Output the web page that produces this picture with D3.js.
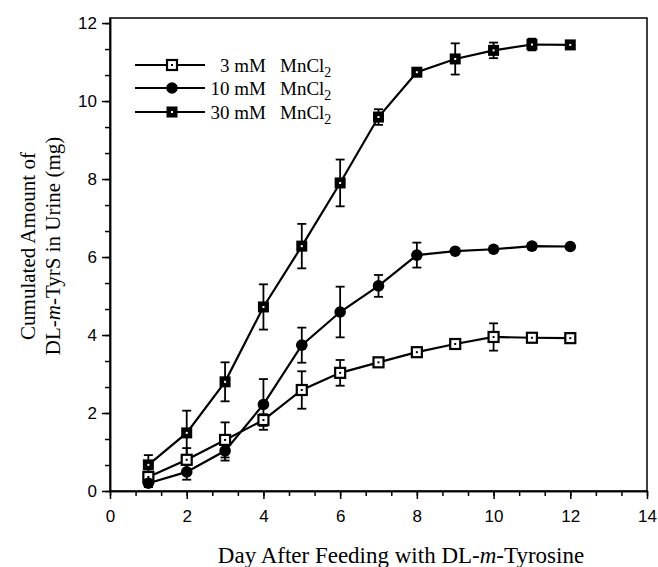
<!DOCTYPE html>
<html><head><meta charset="utf-8">
<script src="https://cdn.jsdelivr.net/npm/d3@7"></script>
<style>body{margin:0;background:#fff}svg{display:block}</style>
</head><body>
<script>
const days = [1,2,3,4,5,6,7,8,9,10,11,12];
const mn3 = [0.36,0.80,1.31,1.82,2.59,3.03,3.30,3.56,3.77,3.95,3.93,3.92];
const mn3Err = [0.10,0.30,0.45,0.15,0.48,0.33,0.10,0.10,0.08,0.35,0,0];
const mn10 = [0.20,0.49,1.03,2.22,3.74,4.59,5.26,6.05,6.15,6.20,6.28,6.27];
const mn10Err = [0.10,0.20,0.25,0.65,0.45,0.65,0.28,0.32,0,0.07,0.08,0];
const mn30 = [0.67,1.49,2.80,4.72,6.28,7.90,9.59,10.74,11.08,11.30,11.45,11.44];
const mn30Err = [0.25,0.57,0.50,0.58,0.57,0.60,0.20,0.10,0.40,0.20,0.15,0];
const xTicks = [0,2,4,6,8,10,12,14];
const yTicks = [0,2,4,6,8,10,12];
const seriesNames = ["3 mM","10 mM","30 mM"];

const W=658,H=567;
const svg=d3.select("body").append("svg").attr("width",W).attr("height",H);
const x=d3.scaleLinear().domain([0,14]).range([110,647]);
const y=d3.scaleLinear().domain([0,12.13]).range([491,18]);

// frame
svg.append("rect").attr("x",x(0)).attr("y",y(12.13)).attr("width",x(14)-x(0)).attr("height",y(0)-y(12.13))
  .attr("fill","none").attr("stroke","#000").attr("stroke-width",1.5);

// axes
const minorX=d3.range(0,14.01,2/3);
const minorY=d3.range(0,12.01,2/3);
const xAx=svg.append("g").attr("transform",`translate(0,${y(0)})`);
xAx.call(d3.axisBottom(x).tickValues(minorX).tickFormat("").tickSize(5).tickSizeOuter(0));
xAx.append("g").call(d3.axisBottom(x).tickValues(xTicks).tickFormat(d3.format("d")).tickSize(8).tickSizeOuter(0).tickPadding(11));
const yAx=svg.append("g").attr("transform",`translate(${x(0)},0)`);
yAx.call(d3.axisLeft(y).tickValues(minorY).tickFormat("").tickSize(5).tickSizeOuter(0));
yAx.append("g").call(d3.axisLeft(y).tickValues(yTicks).tickFormat(d3.format("d")).tickSize(8).tickSizeOuter(0).tickPadding(5));
svg.selectAll(".domain").attr("stroke","#000").attr("stroke-width",1.5);
svg.selectAll(".tick line").attr("stroke","#000").attr("stroke-width",1.5);
svg.selectAll(".tick text").attr("font-family","'Liberation Sans',Arial,sans-serif").attr("font-size",17).attr("fill","#000");

// series
const series=[
 {vals:mn3,err:mn3Err,type:"open"},
 {vals:mn10,err:mn10Err,type:"circle"},
 {vals:mn30,err:mn30Err,type:"filled"}
];
const line=d3.line().x((d,i)=>x(days[i])).y(d=>y(d));
function marker(g,type,cx,cy){
  if(type==="circle"){
    g.append("circle").attr("cx",cx).attr("cy",cy).attr("r",5.8).attr("fill","#000");
  } else if(type==="open"){
    g.append("rect").attr("x",cx-5).attr("y",cy-5).attr("width",10).attr("height",10).attr("fill","#fff").attr("stroke","#000").attr("stroke-width",2.2);
    g.append("rect").attr("x",cx-1).attr("y",cy-1).attr("width",2).attr("height",2).attr("fill","#000");
  } else {
    g.append("rect").attr("x",cx-5.5).attr("y",cy-5.5).attr("width",11).attr("height",11).attr("fill","#000");
    g.append("rect").attr("x",cx-1).attr("y",cy-1).attr("width",2).attr("height",2).attr("fill","#fff");
  }
}
series.forEach(s=>{
  const g=svg.append("g");
  g.append("path").attr("d",line(s.vals)).attr("fill","none").attr("stroke","#000").attr("stroke-width",2.2);
  s.vals.forEach((v,i)=>{
    const e=s.err[i]; if(!e) return;
    const cx=x(days[i]);
    g.append("line").attr("x1",cx).attr("x2",cx).attr("y1",y(v-e)).attr("y2",y(v+e)).attr("stroke","#000").attr("stroke-width",1.8);
    [v-e,v+e].forEach(t=>g.append("line").attr("x1",cx-4.5).attr("x2",cx+4.5).attr("y1",y(t)).attr("y2",y(t)).attr("stroke","#000").attr("stroke-width",1.8));
  });
});
series.forEach(s=>{
  const g=svg.append("g");
  s.vals.forEach((v,i)=>marker(g,s.type,x(days[i]),y(v)));
});

// legend
const serif="'Liberation Serif','Times New Roman',serif";
const ly=[65,88,112];
series.forEach((s,i)=>{
  const g=svg.append("g");
  g.append("line").attr("x1",135).attr("x2",205).attr("y1",ly[i]).attr("y2",ly[i]).attr("stroke","#000").attr("stroke-width",2.2);
  marker(g,s.type,172,ly[i]);
  g.append("text").attr("x",266).attr("y",ly[i]+7).attr("text-anchor","end").attr("font-family",serif).attr("font-size",19).text(seriesNames[i]);
  const t=g.append("text").attr("x",280).attr("y",ly[i]+7).attr("font-family",serif).attr("font-size",19);
  t.append("tspan").text("MnCl");
  t.append("tspan").attr("font-size",14).attr("dy",5).text("2");
});

// axis titles
const xt=svg.append("text").attr("x",401).attr("y",563).attr("text-anchor","middle").attr("font-family",serif).attr("font-size",23);
xt.append("tspan").text("Day After Feeding with DL-");
xt.append("tspan").attr("font-style","italic").text("m");
xt.append("tspan").text("-Tyrosine");
const yt=svg.append("g").attr("transform","translate(35,246) rotate(-90)");
yt.append("text").attr("x",0).attr("y",0).attr("text-anchor","middle").attr("font-family",serif).attr("font-size",21).text("Cumulated Amount of");
const yt2=yt.append("text").attr("x",0).attr("y",25).attr("text-anchor","middle").attr("font-family",serif).attr("font-size",21);
yt2.append("tspan").text("DL-");
yt2.append("tspan").attr("font-style","italic").text("m");
yt2.append("tspan").text("-TyrS in Urine (mg)");
</script>
</body></html>
